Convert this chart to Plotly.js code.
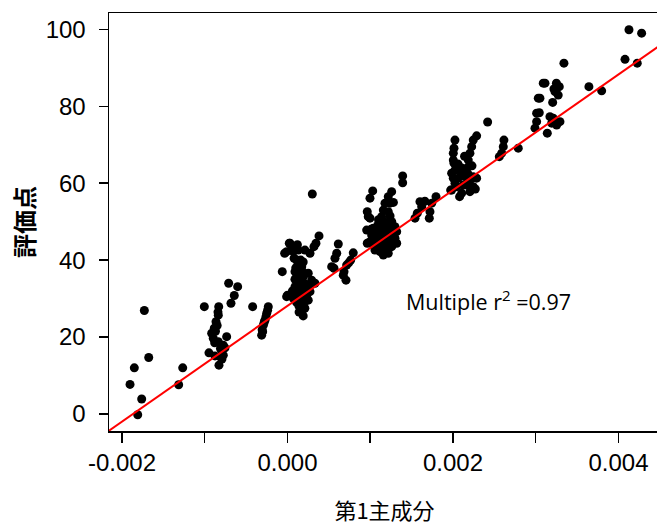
<!DOCTYPE html>
<html>
<head>
<meta charset="utf-8">
<script src="https://cdn.plot.ly/plotly-3.0.1.min.js"></script>
<style>
html,body{margin:0;padding:0;overflow:hidden;background:#fff;}
#chart{width:670px;height:525px;}
</style>
</head>
<body>
<div id="chart"></div>
<script>
// Scatter points, grouped by cluster (x: 第1主成分, y: 評価点)
var xLow = [-0.001730,-0.001851,-0.001903,-0.001677,-0.001762,-0.001810,-0.001266,-0.001315];
var yLow = [26.9,12.0,7.7,14.7,3.9,-0.2,12.0,7.6];

var xM08 = [-0.001005,-0.000711,-0.000602,-0.000643,-0.000683,-0.000421,-0.000831,-0.000836,-0.000864,-0.000885,-0.000916,-0.000897,-0.000836,-0.000776,-0.000735,-0.000795,-0.000816,-0.000828,-0.000949,-0.000876,-0.000776,-0.000792,-0.000755,-0.000850,-0.000870,-0.000810,-0.000840,-0.000880];
var yM08 = [27.9,34.0,33.1,30.8,28.8,27.9,27.9,25.7,24.0,22.3,21.0,19.7,18.8,17.9,20.1,16.6,14.9,12.7,15.9,15.1,15.3,14.3,17.2,23.0,21.5,17.0,26.5,18.5];

var xM03 = [-0.000232,-0.000251,-0.000272,-0.000292,-0.000300,-0.000312,-0.000260,-0.000282,-0.000240,-0.000306];
var yM03 = [27.9,26.2,24.4,23.1,21.4,20.5,25.3,23.8,27.0,21.9];

var xZero = [-0.000063,0.000022,-0.000010,0.000070,0.000131,0.000211,0.000272,0.000111,0.000172,0.000091,0.000131,0.000091,0.000151,0.000232,0.000292,0.000332,0.000211,0.000131,0.000191,0.000172,-0.000010,0.000070,0.000251,0.000272,0.000111,0.000191,0.000251,0.000381,0.000344,0.000320,0.000300,0.000100,0.000150,0.000120,0.000180,0.000140,0.000200,0.000220,0.000100,0.000160,0.000080,0.000120,0.000050,0.000170,0.000230,0.000190,-0.000034,0.000000,0.000030,0.000150,0.000210,0.000240,0.000090,0.000110,0.000130,0.000160,0.000180,0.000200,0.000140,0.000170,0.000210,0.000260,0.000060,0.000190];
var yZero = [37.0,44.4,42.2,42.2,42.6,42.6,41.8,40.0,38.3,37.0,34.8,33.1,32.2,33.5,34.8,34.0,30.9,29.6,27.9,26.6,30.5,30.1,29.6,31.8,35.7,35.7,36.6,46.3,44.4,43.5,57.2,38.0,36.0,33.0,31.0,28.0,29.0,32.0,31.5,40.0,40.5,44.0,43.0,34.0,30.5,25.5,41.8,30.9,44.4,38.5,27.5,31.5,35.0,29.0,39.0,30.0,37.0,34.0,26.5,28.8,33.0,33.5,32.0,39.5];

var xP06 = [0.000614,0.000595,0.000574,0.000562,0.000795,0.000764,0.000715,0.000683,0.000707,0.000674,0.000534,0.000740];
var yP06 = [44.2,41.8,40.5,37.9,41.9,40.0,38.7,37.0,34.8,36.1,38.3,39.3];

var xP10 = [0.000976,0.000957,0.000964,0.001030,0.000997,0.000964,0.000997,0.001259,0.001218,0.001178,0.001158,0.001138,0.001118,0.001239,0.001218,0.001037,0.001097,0.001199,0.001299,0.001320,0.001017,0.001118,0.001218,0.001299,0.001078,0.001178,0.001259,0.001118,0.001218,0.000997,0.001320,0.001057,0.001158,0.001392,0.001392,0.001050,0.001100,0.001150,0.001200,0.001250,0.001080,0.001160,0.001220,0.001140,0.001260,0.001100,0.001120,0.001240,0.001280,0.001040,0.001070,0.001130,0.001190,0.001280,0.001170,0.001230,0.001090,0.001010];
var yP10 = [51.3,47.8,44.4,58.0,56.1,52.6,50.9,57.8,56.5,54.8,53.0,51.3,49.6,54.8,52.6,48.3,47.8,48.3,48.7,47.4,46.5,46.1,46.3,45.7,44.4,43.9,43.5,42.2,41.8,44.8,44.4,42.6,41.3,61.9,60.1,45.5,44.0,45.0,44.8,46.5,47.0,47.5,49.5,48.5,50.0,50.5,42.5,51.5,55.0,43.8,45.8,46.8,43.0,47.5,50.0,45.0,49.0,48.0];

var xP17 = [0.001601,0.001622,0.001569,0.001541,0.001795,0.001743,0.001722,0.001714,0.001660];
var yP17 = [55.2,53.9,52.2,50.9,56.5,54.8,52.6,50.9,55.3];

var xP20 = [0.002004,0.002012,0.001984,0.002024,0.001984,0.002024,0.002012,0.002004,0.002024,0.002004,0.002045,0.002286,0.002245,0.002226,0.002205,0.002185,0.002166,0.002145,0.002124,0.002105,0.002245,0.002286,0.002245,0.002205,0.002064,0.002085,0.002166,0.001972,0.002419,0.002616,0.002608,0.002589,0.002560,0.002789,0.002100,0.002120,0.002180,0.002200,0.002060,0.002140,0.002230,0.002270,0.002080];
var yP20 = [67.8,65.2,62.6,60.0,58.2,71.2,69.1,66.0,63.4,61.3,59.1,72.3,71.2,69.5,67.8,66.0,63.9,61.7,59.5,57.4,61.7,61.3,59.1,57.8,61.3,63.4,59.5,58.2,75.9,71.2,69.5,67.8,66.9,69.1,64.0,62.0,62.5,60.5,65.0,67.0,64.5,58.5,56.5];

var xP30 = [0.002991,0.003011,0.003011,0.003031,0.003112,0.003091,0.003285,0.003233,0.003272,0.003051,0.003205,0.003043,0.003172,0.003212,0.003293,0.003253,0.003193,0.003140,0.003341,0.003643,0.003797,0.004127,0.004280,0.004079,0.004227,0.003220,0.003250];
var yP30 = [74.3,76.0,78.2,82.1,86.0,86.0,85.1,83.8,82.9,82.1,81.0,78.3,77.3,76.9,76.0,75.1,75.6,73.0,91.2,85.1,84.0,99.9,99.0,92.2,91.2,84.5,86.0];

// Regression line (fitted, drawn across the full axis)
var fitX = [-0.0025, 0.0050];
var fitY = [-9.5, 103.3];

// Axis ticks
var xTickVals = [-0.002,-0.001,0.000,0.001,0.002,0.003,0.004];
var xTickText = ['-0.002','','0.000','','0.002','','0.004'];
var yTickVals = [0,20,40,60,80,100];
var yTickText = ['0','20','40','60','80','100'];

var xs = [].concat(xLow,xM08,xM03,xZero,xP06,xP10,xP17,xP20,xP30);
var ys = [].concat(yLow,yM08,yM03,yZero,yP06,yP10,yP17,yP20,yP30);

var tickFont = {family:'Liberation Sans, Arial, sans-serif', size:24, color:'#000'};

var data = [
  {x: xs, y: ys, type:'scatter', mode:'markers', marker:{color:'#000', size:9, line:{width:0}}, hoverinfo:'x+y', cliponaxis:true},
  {x: fitX, y: fitY, type:'scatter', mode:'lines', line:{color:'#ff0000', width:2}, hoverinfo:'skip'}
];

var layout = {
  width: 670, height: 525,
  margin: {l:109, r:10, t:13, b:94, pad:0},
  paper_bgcolor:'#fff', plot_bgcolor:'#fff',
  showlegend:false,
  xaxis: {
    range:[-0.002157, 0.004502],
    tickmode:'array', tickvals:xTickVals, ticktext:xTickText,
    ticks:'outside', ticklen:10, tickwidth:1.5, tickcolor:'#000',
    showline:true, linewidth:1.5, linecolor:'#000', mirror:true,
    showgrid:false, zeroline:false,
    tickfont:tickFont,
    title:{text:'第1主成分', font:{family:'Noto Sans CJK JP, sans-serif', size:22, color:'#000'}, standoff:28}
  },
  yaxis: {
    range:[-4.42, 104.24],
    tickmode:'array', tickvals:yTickVals, ticktext:yTickText,
    ticks:'outside', ticklen:9, tickwidth:1.5, tickcolor:'#000',
    showline:true, linewidth:1.5, linecolor:'#000', mirror:true,
    showgrid:false, zeroline:false,
    tickfont:tickFont, ticklabelstandoff:8,
    title:{text:'評価点', font:{family:'Noto Sans CJK JP, sans-serif', size:24, color:'#000', weight:'bold'}, standoff:4}
  },
  annotations: [
    {x:0.001405, y:29.6, xref:'x', yref:'y', xanchor:'left', yanchor:'middle', showarrow:false,
     text:'Multiple r<sup>2</sup> =0.97', font:{family:'Open Sans, sans-serif', size:21.5, color:'#000'}}
  ]
};

Plotly.newPlot('chart', data, layout, {displayModeBar:false, staticPlot:true});
</script>
</body>
</html>
